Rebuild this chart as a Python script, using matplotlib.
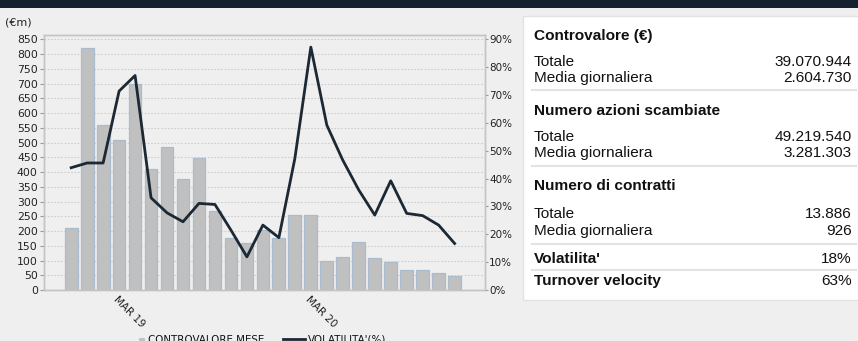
"""
Monthly traded value (bars) with volatility (line), plus summary stats panel.
"""

import matplotlib
matplotlib.use('Agg')
import matplotlib.pyplot as plt
from matplotlib.patches import Rectangle
from matplotlib.lines import Line2D
import numpy as np

# Monthly traded value (EUR millions)
controvalore = [209, 822, 559, 510, 698, 409, 484, 378, 446, 268, 177, 158, 205,
                177, 254, 254, 99, 113, 163, 108, 95, 68, 68, 59, 48]
# Monthly volatility (%)
volatilita = [43.9, 45.6, 45.6, 71.4, 77.0, 33.1, 27.7, 24.5, 31.1, 30.7, 21.5, 11.9, 23.3,
              18.8, 47.2, 87.2, 59.2, 46.6, 35.9, 26.9, 39.2, 27.5, 26.7, 23.3, 16.7]
tick_idx = [3, 15]
tick_labels = ['MAR 19', 'MAR 20']

left_ticks = list(range(0, 851, 50))
right_ticks = list(range(0, 91, 10))

# Summary panel rows: (label, value, bold)
sections = [
    [('Controvalore (€)', '', True), ('Totale', '39.070.944', False),
     ('Media giornaliera', '2.604.730', False)],
    [('Numero azioni scambiate', '', True), ('Totale', '49.219.540', False),
     ('Media giornaliera', '3.281.303', False)],
    [('Numero di contratti', '', True), ('Totale', '13.886', False),
     ('Media giornaliera', '926', False)],
    [("Volatilita'", '18%', True)],
    [('Turnover velocity', '63%', True)],
]

W, H = 858, 341
BG = '#efefef'
fig = plt.figure(figsize=(W / 100, H / 100), dpi=100, facecolor=BG)


def fx(px):
    return px / W


def fy(py):
    return 1 - py / H


# dark header strip
fig.patches.append(Rectangle((0, fy(8)), 1, 8 / H, transform=fig.transFigure,
                             facecolor='#17202e', edgecolor='none', zorder=0))

ax = fig.add_axes([fx(44), fy(290), fx(485) - fx(44), fy(35) - fy(290)])
ax.set_facecolor(BG)
x = np.arange(len(controvalore))
ax.bar(x, controvalore, width=0.8, color='#c0c0c0', edgecolor='#a9bccd',
       linewidth=0.9, zorder=2)
ax.set_xlim(-1.7, len(controvalore) - 1 + 1.9)
ymax = 864.6
ax.set_ylim(0, ymax)
ax.set_yticks(left_ticks)
ax.set_yticklabels([str(v) for v in left_ticks])
ax.grid(axis='y', color='#cdcdcd', linestyle=(0, (1.5, 1.5)), linewidth=0.8, zorder=1)
ax.set_axisbelow(True)
ax.set_xticks(tick_idx)
ax.set_xticklabels(tick_labels, rotation=-45, rotation_mode='anchor',
                   ha='left', va='top', fontsize=7.5, color='#222222')
ax.tick_params(axis='x', length=0, pad=3)
ax.tick_params(axis='y', length=3, color='#999999', labelsize=7.8, colors='#222222', pad=1.5)
for s in ax.spines.values():
    s.set_color('#c4c4c4')
    s.set_linewidth(1)

ax2 = ax.twinx()
ax2.plot(x, volatilita, color='#1c2833', linewidth=2, zorder=3)
ax2.set_ylim(0, 90 * ymax / 850)
ax2.set_yticks(right_ticks)
ax2.set_yticklabels([f'{v}%' for v in right_ticks])
ax2.tick_params(axis='y', length=2.5, color='#999999', labelsize=7.5, colors='#222222', pad=0.5)
for s in ax2.spines.values():
    s.set_color('#c4c4c4')
    s.set_linewidth(1)

fig.text(fx(5), fy(22.5), '(€m)', fontsize=8, color='#222222', va='center')

# legend drawn below the axis, partly running off the bottom edge
fig.patches.append(Rectangle((fx(139), fy(342.5)), fx(5), 5 / H, transform=fig.transFigure,
                             facecolor='#c0c0c0', edgecolor='#a9bccd', linewidth=0.5))
fig.text(fx(148), fy(343), 'CONTROVALORE MESE', fontsize=7.4, color='#111111',
         va='baseline')
fig.lines.append(Line2D([fx(283), fx(305)], [fy(338.5), fy(338.5)], transform=fig.transFigure,
                        color='#1c2833', linewidth=2))
fig.text(fx(308), fy(343), "VOLATILITA'(%)", fontsize=7.4, color='#111111',
         va='baseline')

# summary panel
fig.patches.append(Rectangle((fx(523), fy(300)), fx(W + 5) - fx(523), (300 - 16) / H,
                             transform=fig.transFigure, facecolor='white',
                             edgecolor='#e2e2e2', linewidth=1, zorder=1))
baselines = [[40, 66, 81.7], [115, 140.7, 156.7], [190, 218.3, 235], [263.3], [285]]
separators = [90, 166, 244, 270]
font = ['Liberation Sans', 'DejaVu Sans']
for i, rows in enumerate(sections):
    for (label, value, bold), yb in zip(rows, baselines[i]):
        weight = 'bold' if bold else 'normal'
        fig.text(fx(534), fy(yb), label, fontsize=11.1, family=font, fontweight=weight,
                 color='#111111', va='baseline', ha='left', zorder=2)
        if value:
            fig.text(fx(852), fy(yb), value, fontsize=11.1, family=font,
                     color='#111111', va='baseline', ha='right', zorder=2)
for ys in separators:
    fig.lines.append(Line2D([fx(532), fx(856)], [fy(ys), fy(ys)], transform=fig.transFigure,
                            color='#e3e3e3', linewidth=1.5, zorder=2))

fig.savefig('out.png', dpi=100, facecolor=BG)
plt.close(fig)
